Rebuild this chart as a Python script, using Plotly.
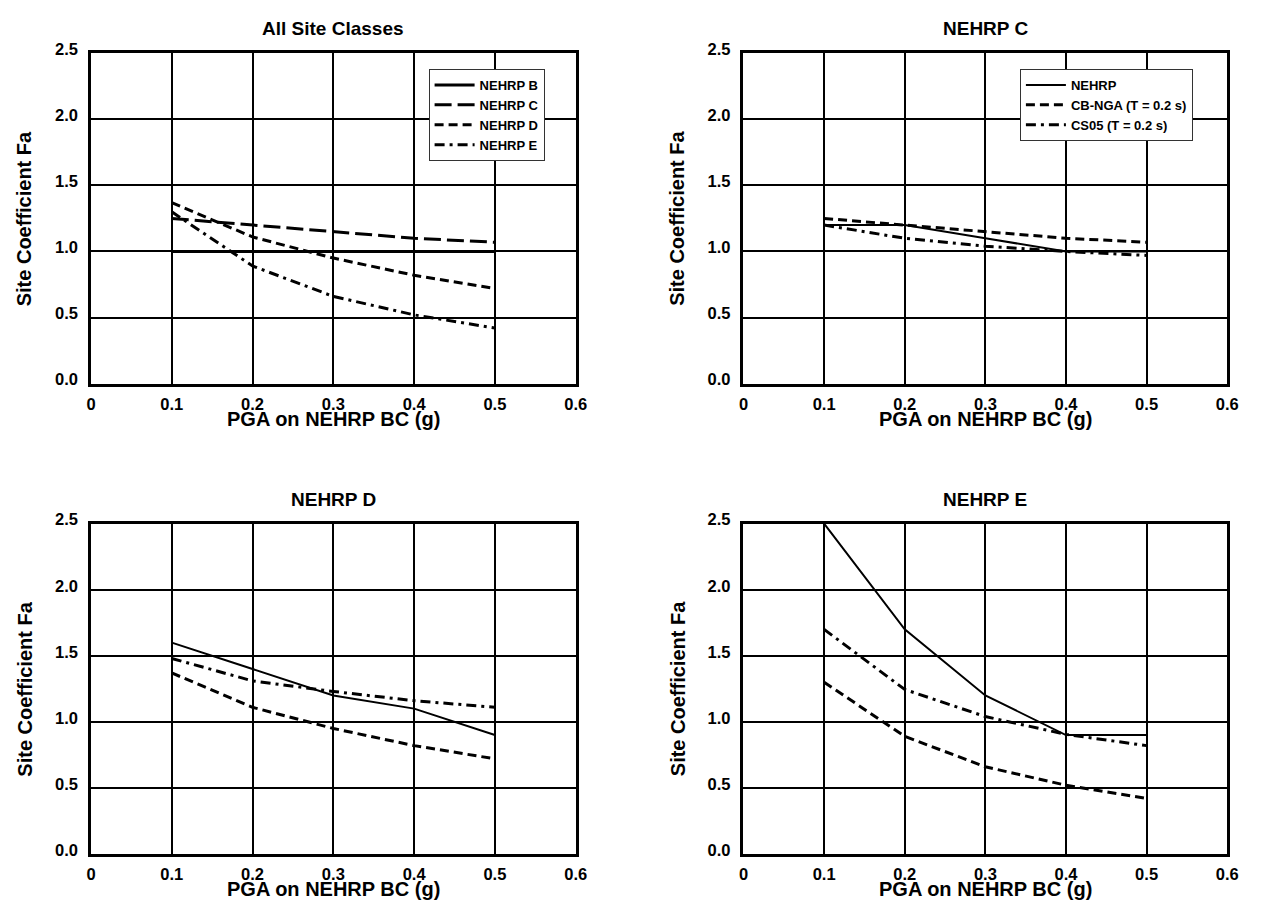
import plotly.graph_objects as go

# ---------------- data ----------------
pga = [0.1, 0.2, 0.3, 0.4, 0.5]

# Panel 1: All Site Classes
all_B = [1.00, 1.00, 1.00, 1.00, 1.00]
all_C = [1.25, 1.20, 1.15, 1.10, 1.07]
all_D = [1.37, 1.11, 0.95, 0.82, 0.72]
all_E = [1.30, 0.89, 0.66, 0.52, 0.42]

# Panel 2: NEHRP C
c_nehrp = [1.20, 1.20, 1.10, 1.00, 1.00]
c_cbnga = [1.25, 1.20, 1.15, 1.10, 1.07]
c_cs05 = [1.20, 1.10, 1.04, 1.00, 0.97]

# Panel 3: NEHRP D
d_nehrp = [1.60, 1.40, 1.20, 1.10, 0.90]
d_cbnga = [1.37, 1.11, 0.95, 0.82, 0.72]
d_cs05 = [1.48, 1.31, 1.23, 1.16, 1.11]

# Panel 4: NEHRP E
e_nehrp = [2.50, 1.70, 1.20, 0.90, 0.90]
e_cbnga = [1.30, 0.89, 0.66, 0.52, 0.42]
e_cs05 = [1.70, 1.245, 1.04, 0.905, 0.82]

x_tickvals = [0, 0.1, 0.2, 0.3, 0.4, 0.5, 0.6]
x_ticktext = ["0", "0.1", "0.2", "0.3", "0.4", "0.5", "0.6"]
y_tickvals = [0, 0.5, 1.0, 1.5, 2.0, 2.5]
y_ticktext = ["0.0", "0.5", "1.0", "1.5", "2.0", "2.5"]

panel_titles = ["All Site Classes", "NEHRP C", "NEHRP D", "NEHRP E"]
x_title = "PGA on NEHRP BC (g)"
y_title = "Site Coefficient Fa"

# ---------------- layout geometry ----------------
# The page adds an 8 px body margin, so the figure is 16 px smaller
# than the window and every target pixel is shifted by 8.
PAGE_W, PAGE_H = 1262, 913
OFF = 8
W, H = PAGE_W - 2 * OFF, PAGE_H - 2 * OFF
FONT = "Liberation Sans"


def px_x(p):
    return (p - OFF) / W


def px_y(p):
    return 1 - (p - OFF) / H


col_px = [(87, 578), (748, 1238)]
row_px = [(41, 378), (521, 858)]

LONG_DASH = "17px,6px"
MED_DASH = "9px,5px"
DASH_DOT = "10px,5px,3px,5px"

fig = go.Figure()


def add(x, y, name, dash, width, axis, legend="legend", show=False):
    fig.add_trace(go.Scatter(
        x=x, y=y, name=name, mode="lines",
        line=dict(color="black", width=width, dash=dash),
        xaxis="x" + axis, yaxis="y" + axis,
        showlegend=show, legend=legend,
    ))


# Panel 1
add(pga, all_B, "NEHRP B", "solid", 3, "", "legend", True)
add(pga, all_C, "NEHRP C", LONG_DASH, 3, "", "legend", True)
add(pga, all_D, "NEHRP D", MED_DASH, 3, "", "legend", True)
add(pga, all_E, "NEHRP E", DASH_DOT, 3, "", "legend", True)

# Panel 2
add(pga, c_nehrp, "NEHRP", "solid", 2, "2", "legend2", True)
add(pga, c_cbnga, "CB-NGA (T = 0.2 s)", MED_DASH, 3, "2", "legend2", True)
add(pga, c_cs05, "CS05 (T = 0.2 s)", DASH_DOT, 3, "2", "legend2", True)

# Panel 3
add(pga, d_nehrp, "NEHRP", "solid", 2, "3")
add(pga, d_cbnga, "CB-NGA (T = 0.2 s)", MED_DASH, 3, "3")
add(pga, d_cs05, "CS05 (T = 0.2 s)", DASH_DOT, 3, "3")

# Panel 4
add(pga, e_nehrp, "NEHRP", "solid", 2, "4")
add(pga, e_cbnga, "CB-NGA (T = 0.2 s)", MED_DASH, 3, "4")
add(pga, e_cs05, "CS05 (T = 0.2 s)", DASH_DOT, 3, "4")

tickfont = dict(family=FONT, size=16.5, color="black", weight="bold")

layout = dict(
    width=W, height=H,
    margin=dict(l=0, r=0, t=0, b=0),
    paper_bgcolor="white", plot_bgcolor="white",
    font=dict(family=FONT, color="black"),
)

positions = [(0, 0), (1, 0), (0, 1), (1, 1)]
annotations = []
for i, (c, r) in enumerate(positions):
    suf = "" if i == 0 else str(i + 1)
    x0, x1 = col_px[c]
    y0, y1 = row_px[r]
    layout["xaxis" + suf] = dict(
        domain=[px_x(x0), px_x(x1)], range=[0, 0.6],
        tickvals=x_tickvals, ticktext=x_ticktext,
        showgrid=True, gridcolor="black", gridwidth=1.5,
        showline=True, linecolor="black", linewidth=2.5, mirror=True,
        zeroline=False, ticks="", tickfont=tickfont,
        ticklabelstandoff=4,
        anchor="y" + suf, fixedrange=True,
    )
    layout["yaxis" + suf] = dict(
        domain=[px_y(y1), px_y(y0)], range=[0, 2.5],
        tickvals=y_tickvals, ticktext=y_ticktext,
        showgrid=True, gridcolor="black", gridwidth=1.5,
        showline=True, linecolor="black", linewidth=2.5, mirror=True,
        zeroline=False, ticks="", tickfont=tickfont,
        ticklabelstandoff=7, ticklabelshift=-4,
        anchor="x" + suf, fixedrange=True,
    )
    cx = (x0 + x1) / 2
    annotations.append(dict(
        text="<b>" + panel_titles[i] + "</b>", x=px_x(cx), y=px_y(y0 - 25),
        xref="paper", yref="paper", showarrow=False,
        font=dict(family=FONT, size=19, color="black"),
        xanchor="center", yanchor="middle",
    ))
    annotations.append(dict(
        text="<b>" + x_title + "</b>", x=px_x(cx), y=px_y(y1 + 36),
        xref="paper", yref="paper", showarrow=False,
        font=dict(family=FONT, size=20, color="black"),
        xanchor="center", yanchor="middle",
    ))
    annotations.append(dict(
        text="<b>" + y_title + "</b>", x=px_x(x0 - 67), y=px_y((y0 + y1) / 2),
        xref="paper", yref="paper", showarrow=False, textangle=-90,
        font=dict(family=FONT, size=20, color="black"),
        xanchor="center", yanchor="middle",
    ))

layout["annotations"] = annotations

legend_font = dict(family=FONT, size=13, color="black", weight="bold")
layout["legend"] = dict(
    x=px_x(429), y=px_y(57), xanchor="left", yanchor="top",
    bgcolor="white", bordercolor="#333", borderwidth=1,
    font=legend_font, tracegroupgap=0, itemwidth=40,
)
layout["legend2"] = dict(
    x=px_x(1028), y=px_y(57), xanchor="left", yanchor="top",
    bgcolor="white", bordercolor="#333", borderwidth=1,
    font=legend_font, tracegroupgap=0, itemwidth=40,
)

fig.update_layout(**layout)
fig.write_html("out.html", config={"displayModeBar": False})
